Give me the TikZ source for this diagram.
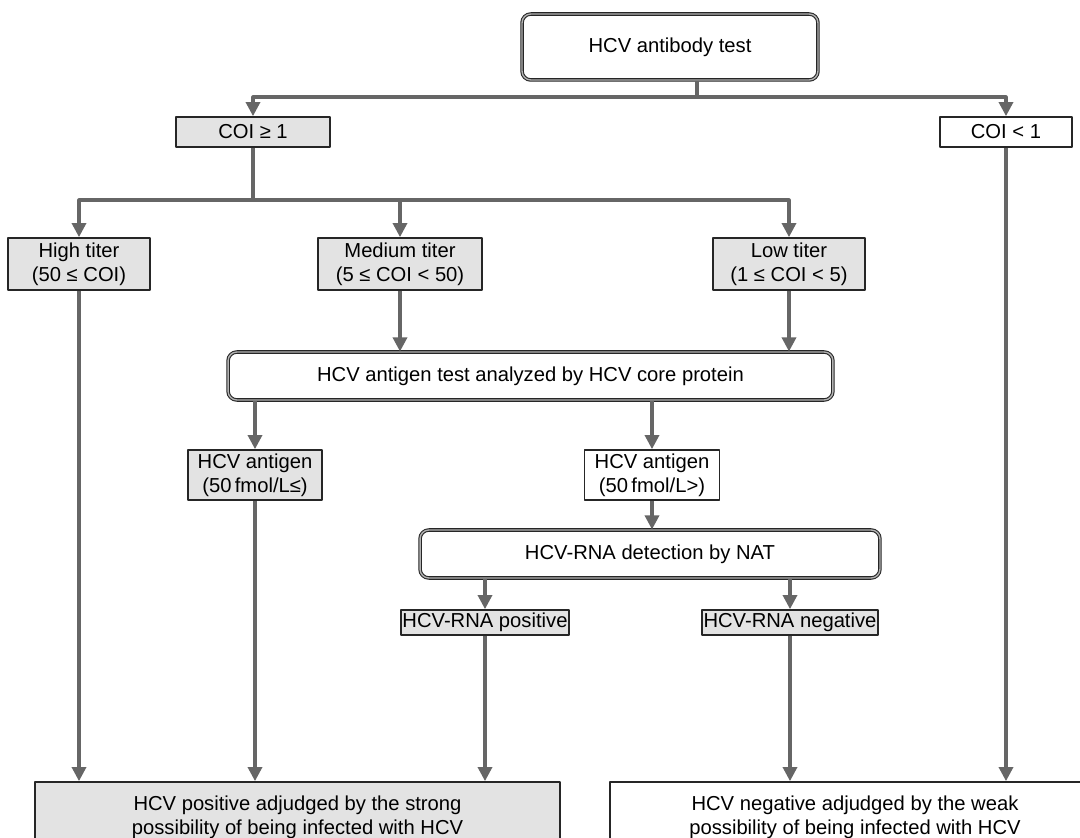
\documentclass[tikz,border=0pt]{standalone}
\usepackage{fontspec}
\setmainfont{Liberation Sans}
\usetikzlibrary{arrows.meta}

\begin{document}
\begin{tikzpicture}[x=0.02cm, y=-0.02cm, line join=round,
  box/.style={draw=black!85, line width=1pt, fill=white, inner sep=1pt,
    align=center, font=\fontsize{11.5}{13.5}\selectfont},
  greybox/.style={box, fill=black!11},
  bigbox/.style={box, draw=black!85, double=black!30, double distance=0.8pt,
    line width=0.6pt, rounded corners=5pt},
  link/.style={draw=black!60, line width=1.8pt},
  arr/.style={link, -{Triangle[length=8pt,width=8pt]}}]
  \clip (0,0) rectangle (1080,838);
  \fill[white] (0,0) rectangle (1080,838);
  % boxes
  \node[bigbox, minimum width=5.92cm, minimum height=1.32cm] (abtest) at (670,47) {HCV antibody test};
  \node[greybox, minimum width=3.08cm, minimum height=0.6cm] (coipos) at (253,132) {COI ≥ 1};
  \node[box, minimum width=2.64cm, minimum height=0.6cm] (coineg) at (1006,132) {COI < 1};
  \node[greybox, minimum width=2.84cm, minimum height=1.04cm] (high) at (79,264) {High titer\\(50 ≤ COI)};
  \node[greybox, minimum width=3.28cm, minimum height=1.04cm] (medium) at (400,264) {Medium titer\\(5 ≤ COI < 50)};
  \node[greybox, minimum width=3.04cm, minimum height=1.04cm] (low) at (789,264) {Low titer\\(1 ≤ COI < 5)};
  \node[bigbox, minimum width=12.1cm, minimum height=0.96cm] (agtest) at (530.5,376) {HCV antigen test analyzed by HCV core protein};
  \node[greybox, minimum width=2.68cm, minimum height=1cm] (aghigh) at (255,475) {HCV antigen\\(50\,fmol/L≤)};
  \node[box, minimum width=2.7cm, minimum height=1cm] (aglow) at (652,475) {HCV antigen\\(50\,fmol/L>)};
  \node[bigbox, minimum width=9.2cm, minimum height=0.96cm] (nat) at (650,554) {HCV-RNA detection by NAT};
  \node[greybox, minimum width=3.08cm, minimum height=0.5cm] (rnapos) at (485,622.5) {HCV-RNA positive};
  \node[greybox, minimum width=3.2cm, minimum height=0.5cm] (rnaneg) at (790,622.5) {HCV-RNA negative};
  \node[greybox, minimum width=10.5cm, minimum height=1.4cm] (hcvpos) at (297.5,817) {HCV positive adjudged by the strong\\possibility of being infected with HCV};
  \node[box, minimum width=9.8cm, minimum height=1.4cm] (hcvneg) at (855,817) {HCV negative adjudged by the weak\\possibility of being infected with HCV};
  % connectors
  \coordinate (split1) at (697,97);
  \coordinate (split2) at (253,200);
  \draw[link] (abtest.south -| split1) -- (split1);
  \draw[arr] (split1) -| (coipos.north);
  \draw[arr] (split1) -| (coineg.north);
  \draw[link] (coipos.south) -- (split2);
  \draw[arr] (split2) -| (high.north);
  \draw[arr] (split2) -| (low.north);
  \draw[arr] (medium.north |- split2) -- (medium.north);
  \draw[arr] (medium.south) -- (medium.south |- agtest.north);
  \draw[arr] (low.south) -- (low.south |- agtest.north);
  \draw[arr] (aghigh.north |- agtest.south) -- (aghigh.north);
  \draw[arr] (aglow.north |- agtest.south) -- (aglow.north);
  \draw[arr] (aglow.south) -- (aglow.south |- nat.north);
  \draw[arr] (rnapos.north |- nat.south) -- (rnapos.north);
  \draw[arr] (rnaneg.north |- nat.south) -- (rnaneg.north);
  \draw[arr] (high.south) -- (high.south |- hcvpos.north);
  \draw[arr] (aghigh.south) -- (aghigh.south |- hcvpos.north);
  \draw[arr] (rnapos.south) -- (rnapos.south |- hcvpos.north);
  \draw[arr] (rnaneg.south) -- (rnaneg.south |- hcvneg.north);
  \draw[arr] (coineg.south) -- (coineg.south |- hcvneg.north);
\end{tikzpicture}
\end{document}
